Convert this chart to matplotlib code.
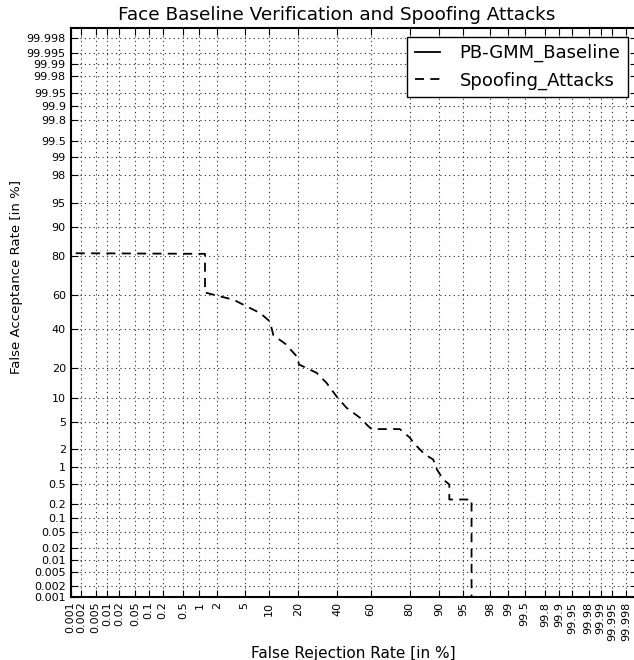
from statistics import NormalDist
import matplotlib
matplotlib.use('Agg')
import matplotlib.pyplot as plt
import numpy as np

# DET axis ticks (in %)
tick_values = [0.001, 0.002, 0.005, 0.01, 0.02, 0.05, 0.1, 0.2, 0.5, 1, 2, 5,
               10, 20, 40, 60, 80, 90, 95, 98, 99, 99.5, 99.8, 99.9, 99.95,
               99.98, 99.99, 99.995, 99.998]
tick_labels = ["0.001", "0.002", "0.005", "0.01", "0.02", "0.05", "0.1", "0.2",
               "0.5", "1", "2", "5", "10", "20", "40", "60", "80", "90", "95",
               "98", "99", "99.5", "99.8", "99.9", "99.95", "99.98", "99.99",
               "99.995", "99.998"]

# baseline has no errors -> curve sits outside the visible range
baseline_frr = [0.0, 0.0, 100.0]
baseline_far = [100.0, 0.0, 0.0]

# spoofing attacks curve
spoof_frr = [0.0, 1.0, 1.25, 1.25, 1.83, 3.5, 5.1, 7.9, 10.3, 11.3, 15.0,
             19.5, 20.5, 28.8, 34.1, 36.9, 40.4, 45.7, 53.7, 58.6, 60.6,
             75.6, 80.1, 82.1, 84.0, 85.8, 88.4, 89.5, 91.1, 92.5, 92.5,
             96.2, 96.2]
spoof_far = [81.6, 81.0, 81.0, 61.7, 60.2, 57.5, 54.0, 49.6, 44.6, 36.5,
             32.0, 25.5, 21.7, 18.2, 14.5, 12.3, 10.0, 7.6, 5.7, 4.4, 4.0,
             4.0, 3.0, 2.4, 2.0, 1.65, 1.37, 0.92, 0.61, 0.49, 0.25, 0.25,
             0.0]

_nd = NormalDist()
_ppf = np.vectorize(_nd.inv_cdf, otypes=[float])
_cdf = np.vectorize(_nd.cdf, otypes=[float])


def ppndf(p):
    p = np.clip(np.asarray(p, dtype=float) / 100.0, 1e-12, 1 - 1e-12)
    return _ppf(p)


def inv_ppndf(z):
    return _cdf(np.asarray(z, dtype=float)) * 100.0


fig = plt.figure(figsize=(6.34, 6.6), dpi=100)
ax = fig.add_axes([0.1115, 0.0959, 0.893, 0.8617])
ax.set_xscale('function', functions=(ppndf, inv_ppndf))
ax.set_yscale('function', functions=(ppndf, inv_ppndf))

ax.plot(baseline_frr, baseline_far, color='black', linestyle='-', lw=1.3,
        label='PB-GMM_Baseline')
ax.plot(spoof_frr, spoof_far, color='black', lw=1.3, dashes=(5, 3.5),
        label='Spoofing_Attacks')

ax.set_xlim(0.001, 99.999)
ax.set_ylim(0.001, 99.999)
ax.set_xticks(tick_values)
ax.set_xticklabels(tick_labels, rotation=90, fontsize=8)
ax.set_yticks(tick_values)
ax.set_yticklabels(tick_labels, fontsize=8)
ax.minorticks_off()
ax.tick_params(direction='in', top=True, right=True, length=5, width=0.8)
ax.grid(True, linestyle=(0, (1, 3)), color='0.15', linewidth=0.8)
for s in ax.spines.values():
    s.set_linewidth(1.5)

ax.set_title("Face Baseline Verification and Spoofing Attacks", fontsize=13.3,
             x=0.4695)
ax.set_xlabel("False Rejection Rate [in %]", fontsize=11)
ax.set_ylabel("False Acceptance Rate [in %]", fontsize=9.5)
ax.yaxis.set_label_coords(-0.084, 0.563)

leg = ax.legend(loc='upper right', fontsize=13, fancybox=False,
                handlelength=1.4, handletextpad=1.1, framealpha=1.0)
leg.get_frame().set_edgecolor('black')
leg.get_frame().set_linewidth(1.0)

fig.savefig('out.png', dpi=100)
